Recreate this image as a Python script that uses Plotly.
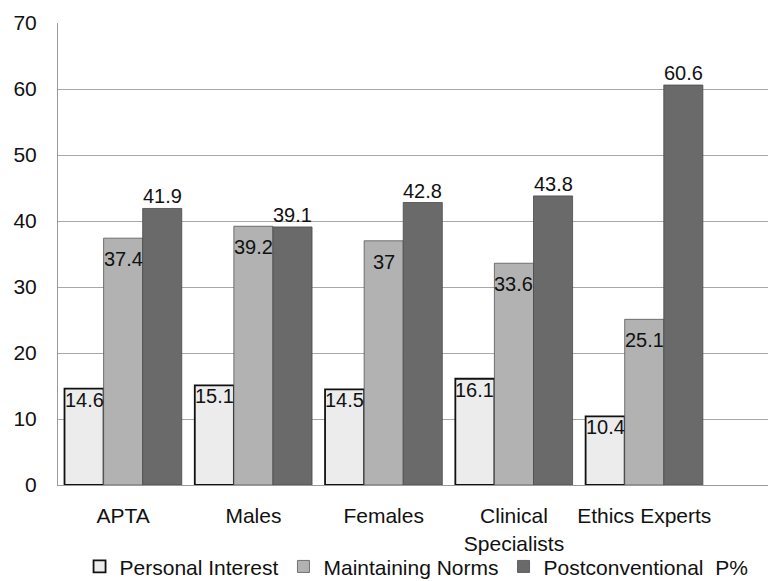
import plotly.graph_objects as go

categories = ["APTA", "Males", "Females", "Clinical<br>Specialists", "Ethics Experts"]
personal_interest = [14.6, 15.1, 14.5, 16.1, 10.4]
maintaining_norms = [37.4, 39.2, 37.0, 33.6, 25.1]
postconventional = [41.9, 39.1, 42.8, 43.8, 60.6]
y_ticks = [0, 10, 20, 30, 40, 50, 60, 70]

series = [
    ("Personal Interest", personal_interest, "#ececec", "#111111", 1.8, -11),
    ("Maintaining Norms", maintaining_norms, "#b2b2b2", "#555555", 0.8, -21),
    ("Postconventional  P%", postconventional, "#6a6a6a", "#4a4a4a", 0.8, 12),
]

FONT = "Liberation Sans, Arial, sans-serif"
plot_w = 768 - 58
x_range = [-0.5, 4.95]
px_per_unit = plot_w / (x_range[1] - x_range[0])
bar_px = 0.3 * px_per_unit

fig = go.Figure()
annotations = []
for i, (name, vals, fill, edge, lw, yshift) in enumerate(series):
    fig.add_trace(go.Bar(
        name=name, x=categories, y=vals,
        marker=dict(color=fill, line=dict(color=edge, width=lw)),
    ))
    for cat, v in zip(categories, vals):
        annotations.append(dict(
            x=cat, y=v, xref="x", yref="y", text=f"{v:g}",
            showarrow=False, xshift=(i - 1) * bar_px, yshift=yshift,
            yanchor="middle", xanchor="center",
            font=dict(family=FONT, size=20, color="#111111"),
        ))

fig.update_layout(
    width=768, height=581,
    margin=dict(l=58, r=0, t=23, b=96, autoexpand=False),
    paper_bgcolor="white", plot_bgcolor="white",
    barmode="group", bargap=0.1, bargroupgap=0,
    font=dict(family=FONT, size=21, color="#111111"),
    annotations=annotations,
    showlegend=True,
    legend=dict(
        orientation="h", x=0.505, xanchor="center", y=-0.177, yanchor="middle",
        font=dict(family=FONT, size=21, color="#111111"),
        bgcolor="rgba(0,0,0,0)", itemwidth=30, tracegroupgap=0,
    ),
    xaxis=dict(
        range=x_range, showgrid=False, showline=True, linecolor="#9a9a9a",
        linewidth=1, ticks="", ticklabelstandoff=12,
        tickfont=dict(family=FONT, size=21, color="#111111"),
    ),
    yaxis=dict(
        range=[0, 70], tickvals=y_ticks, showgrid=True, gridcolor="#a8a8a8",
        gridwidth=1, showline=True, linecolor="#9a9a9a", linewidth=1,
        ticks="", ticklabelstandoff=16, zeroline=False,
        tickfont=dict(family=FONT, size=21, color="#111111"),
    ),
)

fig.write_html("out.html")
